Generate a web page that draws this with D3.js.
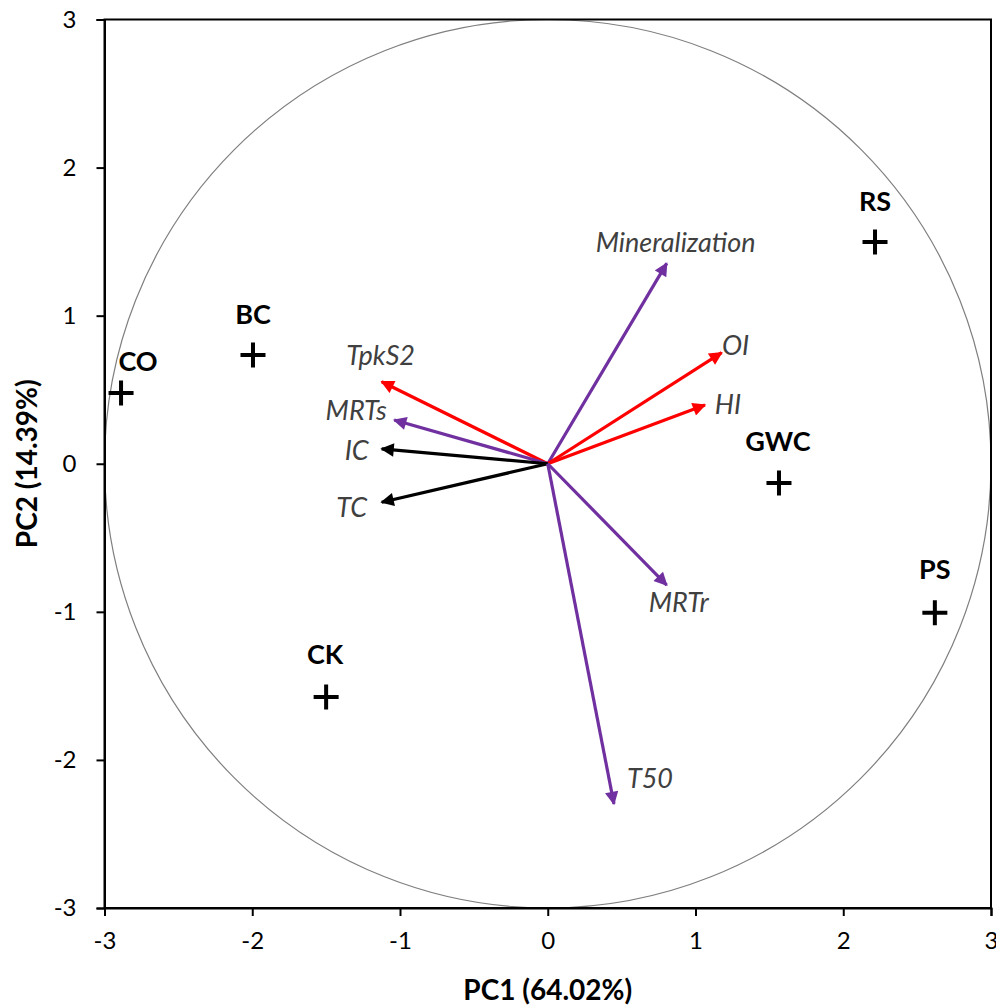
<!DOCTYPE html>
<html>
<head>
<meta charset="utf-8">
<script src="https://cdn.jsdelivr.net/npm/d3@7"></script>
<style>
	body{ margin:0; background:#fff; }
	svg text{ font-family: Lato, "Open Sans", sans-serif; }
	.tick-label{ font-size:24px; fill:#000; }
	.axis-title{ font-size:28px; font-weight:bold; fill:#000; }
	.var-label{ font-size:27px; font-style:italic; fill:#404040; }
	.obs-label{ font-size:27px; font-weight:bold; fill:#000; }
</style>
</head>
<body>
<svg id="PCA_BIPLOT"></svg>
<script>
	// loadings (variable arrows)
	var varNames = ["Mineralization", "OI", "HI", "TpkS2", "MRTs", "IC", "TC", "MRTr", "T50"];
	var varPC1 = [0.805, 1.177, 1.064, -1.124, -1.039, -1.124, -1.124, 0.805, 0.448];
	var varPC2 = [1.353, 0.750, 0.397, 0.554, 0.295, 0.100, -0.260, -0.819, -2.297];
	var varGroup = ["purple", "red", "red", "red", "purple", "black", "black", "purple", "purple"];

	// scores (observations)
	var obsNames = ["RS", "BC", "CO", "GWC", "PS", "CK"];
	var obsPC1 = [2.215, -1.995, -2.888, 1.565, 2.620, -1.500];
	var obsPC2 = [1.497, 0.734, 0.478, -0.130, -1.007, -1.575];

	var tickValues = [-3, -2, -1, 0, 1, 2, 3];
	var xTitle = "PC1 (64.02%)",
		yTitle = "PC2 (14.39%)";

	var W = 996, H = 1006;
	var margin = {left:104.5, right:5, top:19.5, bottom:98};

	var colors = { purple:"#7030a0", red:"#ff0000", black:"#000000" };

	// label offsets in px from the arrow tip (centre of text)
	var varLabelOff = {
		"Mineralization":[9,-21], "OI":[14,-7], "HI":[23,0],
		"TpkS2":[-1,-26], "MRTs":[-38,-10], "IC":[-25,2],
		"TC":[-30,5], "MRTr":[12,18], "T50":[36,-25]
	};
	// label offsets in px from the marker centre
	var obsLabelDx = [0, 0, 17, -1, 0, -1];
	var obsLabelDy = [-41, -41, -31, -41, -43, -42];

	var svg = d3.select("#PCA_BIPLOT").attr("width", W).attr("height", H);

	var x = d3.scaleLinear().domain([-3, 3]).range([margin.left, W - margin.right]);
	var y = d3.scaleLinear().domain([-3, 3]).range([H - margin.bottom, margin.top]);

	// circle of radius 3
	svg.append("ellipse")
		.attr("cx", x(0)).attr("cy", y(0))
		.attr("rx", x(3) - x(0)).attr("ry", y(0) - y(3))
		.attr("fill", "none").attr("stroke", "#7f7f7f").attr("stroke-width", 1.2);

	// frame
	svg.append("rect")
		.attr("x", x(-3)).attr("y", y(3))
		.attr("width", x(3) - x(-3)).attr("height", y(-3) - y(3))
		.attr("fill", "none").attr("stroke", "#000").attr("stroke-width", 2);

	var fmt = function(d){ return String(d); };
	var xAxis = svg.append("g")
		.attr("transform", "translate(0," + y(-3) + ")")
		.call(d3.axisBottom(x).tickValues(tickValues).tickSize(8).tickPadding(16).tickFormat(fmt));
	var yAxis = svg.append("g")
		.attr("transform", "translate(" + x(-3) + ",0)")
		.call(d3.axisLeft(y).tickValues(tickValues).tickSize(8).tickPadding(20).tickFormat(fmt));

	[xAxis, yAxis].forEach(function(a){
		a.select(".domain").attr("stroke-width", 2);
		a.selectAll(".tick line").attr("stroke-width", 2);
		a.selectAll(".tick text").attr("class", "tick-label").attr("font-family", null).attr("font-size", null);
	});
	xAxis.selectAll(".tick text").attr("dy", "0.71em");

	svg.append("text").attr("class", "axis-title")
		.attr("x", x(0)).attr("y", 990).attr("dy", "0.35em").attr("text-anchor", "middle").text(xTitle);
	svg.append("text").attr("class", "axis-title")
		.attr("transform", "translate(27," + y(0) + ") rotate(-90)")
		.attr("dy", "0.35em").attr("text-anchor", "middle").text(yTitle);

	// arrowheads
	var defs = svg.append("defs");
	Object.keys(colors).forEach(function(k){
		defs.append("marker")
			.attr("id", "arrow-" + k)
			.attr("viewBox", "0 0 10 10")
			.attr("refX", 9).attr("refY", 5)
			.attr("markerWidth", 4.6).attr("markerHeight", 4.2)
			.attr("markerUnits", "strokeWidth")
			.attr("orient", "auto")
			.append("path").attr("d", "M0,0 L10,5 L0,10 Z").attr("fill", colors[k]);
	});

	var vars = varNames.map(function(n, i){
		return { name:n, pc1:varPC1[i], pc2:varPC2[i], group:varGroup[i] };
	});

	svg.append("g").selectAll("line")
		.data(vars).enter().append("line")
		.attr("x1", x(0)).attr("y1", y(0))
		.attr("x2", function(d){ return x(d.pc1); })
		.attr("y2", function(d){ return y(d.pc2); })
		.attr("stroke", function(d){ return colors[d.group]; })
		.attr("stroke-width", 3.2)
		.attr("marker-end", function(d){ return "url(#arrow-" + d.group + ")"; });

	svg.append("g").selectAll("text")
		.data(vars).enter().append("text")
		.attr("class", "var-label")
		.attr("x", function(d){ return x(d.pc1) + varLabelOff[d.name][0]; })
		.attr("y", function(d){ return y(d.pc2) + varLabelOff[d.name][1]; })
		.attr("dy", "0.35em")
		.attr("text-anchor", "middle")
		.text(function(d){ return d.name; });

	// observations
	var obs = obsNames.map(function(n, i){
		return { name:n, pc1:obsPC1[i], pc2:obsPC2[i], i:i };
	});
	var obsG = svg.append("g").selectAll("g")
		.data(obs).enter().append("g")
		.attr("transform", function(d){ return "translate(" + x(d.pc1) + "," + y(d.pc2) + ")"; });

	obsG.append("path")
		.attr("d", "M-12.5,0 H12.5 M0,-12.5 V12.5")
		.attr("stroke", "#000").attr("stroke-width", 4).attr("fill", "none");

	obsG.append("text")
		.attr("class", "obs-label")
		.attr("x", function(d){ return obsLabelDx[d.i]; })
		.attr("y", function(d){ return obsLabelDy[d.i]; })
		.attr("dy", "0.35em")
		.attr("text-anchor", "middle")
		.text(function(d){ return d.name; });
</script>
</body>
</html>
